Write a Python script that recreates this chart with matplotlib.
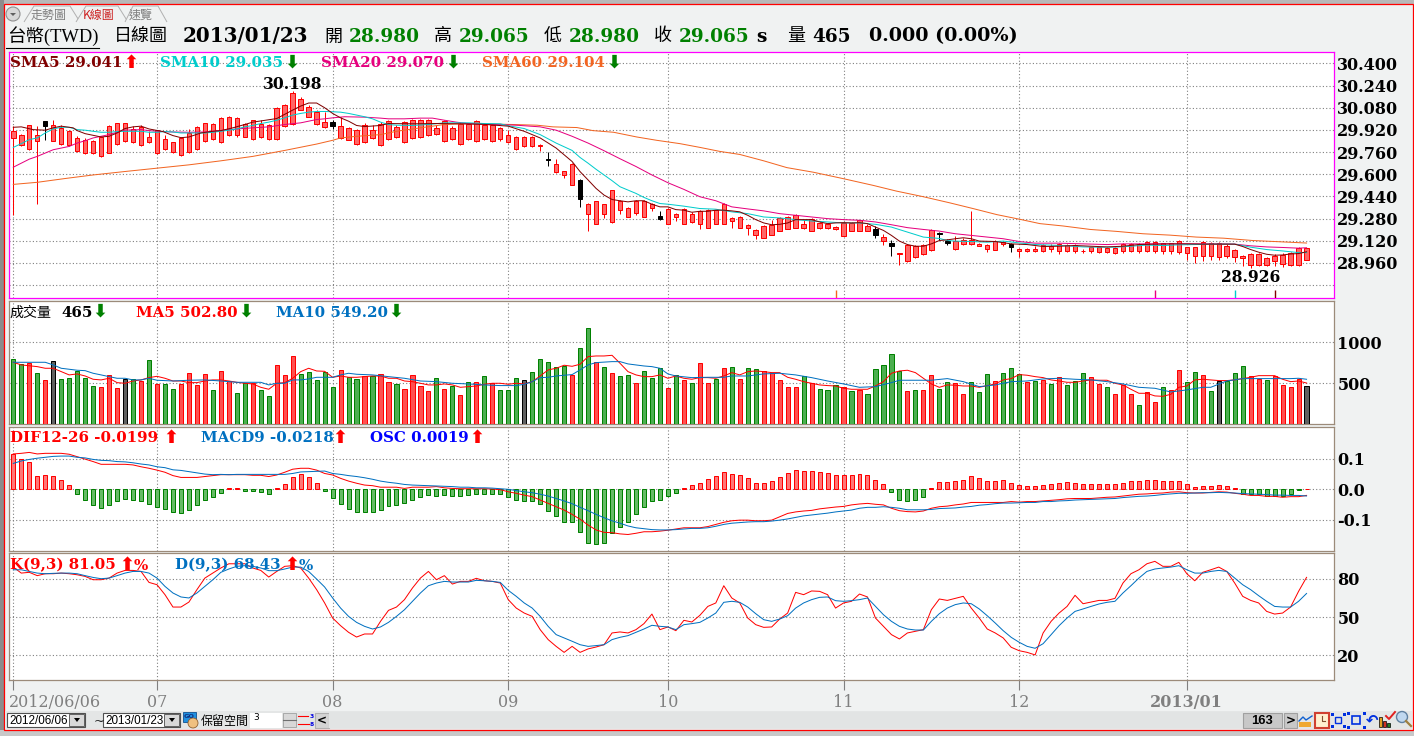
import matplotlib
matplotlib.use('Agg')
import matplotlib.pyplot as plt
from matplotlib.patches import Rectangle, Circle, Polygon
from matplotlib.transforms import ScaledTranslation

W, H = 1414, 736

# month start positions on the bar index, and their labels
month_idx = [0, 18, 40, 62, 82, 104, 126, 147]
month_labels = ['2012/06/06', '07', '08', '09', '10', '11', '12', '2013/01']

# candles, one value per trading day
candle_high = [29.947,29.891,29.959,29.947,29.981,29.995,29.952,29.922,29.879,29.862,
	29.85,29.874,29.952,29.973,29.973,29.947,29.952,29.91,29.922,29.886,
	29.835,29.869,29.927,29.947,29.973,29.968,30.012,30.019,30.015,29.971,
	29.995,29.995,29.961,30.085,30.107,30.198,30.16,30.097,30.063,30.048,
	29.988,30.015,29.942,29.927,29.971,29.952,29.976,29.99,29.956,29.983,
	30.0,30.0,30.0,29.956,29.995,29.947,29.976,29.971,29.99,29.964,
	29.964,29.939,29.922,29.874,29.874,29.874,29.821,29.758,29.712,29.627,
	29.68,29.564,29.394,29.409,29.389,29.488,29.413,29.365,29.413,29.413,
	29.394,29.333,29.358,29.321,29.358,29.331,29.341,29.35,29.345,29.392,
	29.292,29.299,29.241,29.205,29.234,29.273,29.292,29.299,29.312,29.273,
	29.287,29.253,29.249,29.227,29.256,29.256,29.273,29.239,29.224,29.166,
	29.127,29.03,29.096,29.089,29.096,29.205,29.181,29.135,29.156,29.137,
	29.333,29.103,29.096,29.127,29.113,29.101,29.067,29.067,29.079,29.096,
	29.098,29.105,29.096,29.096,29.062,29.076,29.076,29.074,29.072,29.103,
	29.103,29.103,29.118,29.118,29.105,29.105,29.125,29.076,29.076,29.118,
	29.11,29.11,29.096,29.059,29.016,29.03,29.03,29.001,29.023,29.033,
	29.038,29.072,29.065]
body_top = [29.915,29.886,29.954,29.886,29.981,29.952,29.935,29.915,29.862,29.85,
	29.842,29.867,29.947,29.968,29.968,29.93,29.944,29.869,29.918,29.855,
	29.83,29.862,29.896,29.942,29.968,29.964,30.007,30.01,30.007,29.964,
	29.99,29.966,29.956,30.08,30.102,30.189,30.141,30.087,30.046,29.978,
	29.978,29.949,29.935,29.918,29.956,29.922,29.966,29.983,29.944,29.976,
	29.993,29.99,29.99,29.935,29.986,29.935,29.966,29.966,29.983,29.959,
	29.959,29.935,29.884,29.869,29.869,29.869,29.813,29.712,29.673,29.622,
	29.673,29.559,29.389,29.404,29.382,29.484,29.406,29.36,29.409,29.409,
	29.382,29.297,29.353,29.316,29.353,29.316,29.336,29.345,29.341,29.384,
	29.287,29.295,29.236,29.2,29.229,29.236,29.287,29.295,29.307,29.244,
	29.278,29.249,29.244,29.222,29.251,29.251,29.268,29.229,29.207,29.149,
	29.101,29.03,29.091,29.084,29.091,29.2,29.178,29.12,29.12,29.127,
	29.127,29.098,29.091,29.122,29.108,29.096,29.062,29.062,29.062,29.091,
	29.081,29.098,29.091,29.091,29.05,29.072,29.072,29.067,29.067,29.098,
	29.098,29.098,29.113,29.113,29.101,29.101,29.12,29.072,29.072,29.113,
	29.105,29.105,29.086,29.055,29.011,29.025,29.025,28.996,29.011,29.018,
	29.033,29.067,29.065]
body_bot = [29.862,29.808,29.782,29.838,29.947,29.838,29.818,29.808,29.765,29.753,
	29.75,29.729,29.753,29.818,29.838,29.83,29.808,29.83,29.753,29.779,
	29.758,29.736,29.758,29.782,29.838,29.855,29.833,29.884,29.881,29.869,
	29.855,29.867,29.855,29.855,29.949,29.964,30.065,30.015,29.964,29.942,
	29.947,29.859,29.85,29.818,29.83,29.862,29.808,29.857,29.867,29.83,
	29.862,29.867,29.886,29.891,29.838,29.852,29.818,29.855,29.838,29.857,
	29.838,29.852,29.83,29.782,29.801,29.801,29.801,29.704,29.619,29.598,
	29.525,29.423,29.314,29.241,29.314,29.253,29.343,29.292,29.321,29.292,
	29.358,29.278,29.241,29.295,29.241,29.256,29.241,29.212,29.241,29.241,
	29.263,29.212,29.212,29.161,29.142,29.161,29.19,29.205,29.212,29.212,
	29.19,29.212,29.212,29.205,29.154,29.19,29.19,29.19,29.159,29.122,
	29.081,29.023,28.972,29.001,29.023,29.052,29.171,29.105,29.059,29.096,
	29.096,29.084,29.059,29.055,29.096,29.074,29.045,29.045,29.045,29.045,
	29.059,29.045,29.045,29.045,29.045,29.045,29.038,29.038,29.033,29.045,
	29.045,29.045,29.045,29.045,29.045,29.045,29.038,29.03,29.009,29.009,
	29.009,29.001,29.009,29.001,28.994,28.945,28.945,28.943,28.972,28.953,
	28.943,28.943,28.98]
candle_low = [29.308,29.801,29.772,29.387,29.85,29.838,29.813,29.801,29.76,29.748,
	29.745,29.721,29.75,29.813,29.833,29.825,29.806,29.825,29.748,29.772,
	29.753,29.729,29.753,29.777,29.833,29.85,29.828,29.876,29.872,29.867,
	29.85,29.862,29.85,29.85,29.944,29.959,30.061,30.01,29.956,29.937,
	29.927,29.855,29.845,29.811,29.825,29.855,29.801,29.85,29.862,29.825,
	29.855,29.862,29.874,29.886,29.833,29.847,29.813,29.85,29.833,29.85,
	29.83,29.842,29.825,29.777,29.799,29.799,29.765,29.661,29.612,29.573,
	29.52,29.362,29.188,29.239,29.282,29.246,29.312,29.29,29.304,29.29,
	29.333,29.268,29.239,29.261,29.239,29.251,29.202,29.21,29.239,29.239,
	29.21,29.21,29.159,29.13,29.139,29.159,29.188,29.202,29.21,29.202,
	29.188,29.202,29.202,29.195,29.152,29.188,29.188,29.188,29.137,29.093,
	29.013,28.948,28.97,28.999,29.021,29.05,29.127,29.093,29.057,29.093,
	29.093,29.081,29.038,29.052,29.086,29.038,29.006,29.042,29.042,29.042,
	29.038,29.023,29.042,29.033,29.033,29.033,29.03,29.03,29.023,29.033,
	29.038,29.03,29.038,29.03,29.023,29.023,29.023,28.984,28.962,28.977,
	28.984,28.984,28.994,28.97,28.935,28.926,28.94,28.941,28.938,28.93,
	28.938,28.941,28.98]
black_candles = [4, 40, 67, 71, 81, 108, 110, 116, 117, 125]

# moving averages, read at the points where they turn
sma5_idx = [0,1,2.5,4,5,6,7.5,8,9,11,12,13,14,15,16,17,18.75,20,21,22,23.5,25,26,27.5,29,30,33,35,36,37,38,39,40,41,42,43,44,46,47,50,53,56,59,
	62,64,66,68,70,71,72,73,74,75,76,77,78,79,80,81,82,83,84,85,86,87,88,89,90,91,92,93,94,95,96,97,98,99,100,101,102,103,104,105,106,107,108,109,110,111,112,113,114,115,116,117,
	118,119,120,121,123,125,127,129,131,133,135,137,139,141,143,145,147,149,151,153,154,155,156,157,158,159,160,161,162]
sma5_val = [29.939,29.942,29.922,29.918,29.935,29.947,29.935,29.915,29.893,29.869,29.874,29.898,29.93,29.942,29.947,29.927,29.908,29.879,29.864,29.869,29.898,29.91,29.915,29.935,29.959,29.976,30.002,30.063,30.092,30.114,30.114,30.08,30.039,30.007,29.983,29.952,29.944,29.952,29.966,29.964,29.966,29.964,29.96,
	29.947,29.91,29.862,29.789,29.692,29.619,29.559,29.498,29.45,29.418,29.409,29.401,29.409,29.409,29.384,29.365,29.365,29.345,29.341,29.326,29.333,29.333,29.341,29.341,29.336,29.329,29.304,29.273,29.249,29.236,29.239,29.249,29.273,29.273,29.273,29.256,29.244,29.249,29.251,29.249,29.251,29.244,29.219,29.195,29.159,29.118,29.093,29.081,29.081,29.098,29.122,29.127,
	29.135,29.142,29.135,29.118,29.115,29.098,29.093,29.079,29.081,29.086,29.081,29.076,29.081,29.093,29.096,29.098,29.098,29.096,29.096,29.096,29.079,29.057,29.038,29.023,29.016,29.018,29.025,29.028,29.041]
sma10_idx = [0,1,2,3,4,5,6,7,8,9,10,11,12,13,14,16,17,18,19,20,21,24,25,26,27,28,29,30,31,32,33,34,35,36,37,38,39,40,41,42,43,44,45,46,47,48,50,52,54,57,59,
	61,62,64,66,68,70,71,72,73,74,75,76,77,78,79,80,81,82,84,86,88,90,92,94,96,98,100,102,104,106,108,110,112,114,116,117,
	118,120,122,124,126,128,130,132,134,136,138,140,142,144,146,148,150,152,153,155,157,159,161,162]
sma10_val = [29.794,29.821,29.85,29.862,29.898,29.927,29.939,29.939,29.922,29.918,29.91,29.903,29.903,29.908,29.91,29.91,29.903,29.903,29.908,29.905,29.898,29.898,29.903,29.91,29.918,29.927,29.942,29.952,29.966,29.976,29.99,30.007,30.027,30.039,30.048,30.053,30.053,30.051,30.048,30.039,30.027,30.015,30.0,29.976,29.959,29.954,29.952,29.959,29.971,29.971,29.966,
	29.964,29.95,29.93,29.886,29.825,29.772,29.721,29.68,29.636,29.595,29.554,29.51,29.486,29.462,29.433,29.409,29.389,29.384,29.37,29.353,29.348,29.329,29.316,29.292,29.285,29.273,29.263,29.256,29.249,29.249,29.239,29.219,29.183,29.147,29.137,29.122,
	29.118,29.115,29.11,29.118,29.105,29.093,29.089,29.084,29.076,29.074,29.074,29.081,29.089,29.086,29.091,29.093,29.096,29.096,29.096,29.074,29.057,29.047,29.035,29.035]
sma20_idx = [0,1,2,3,4,5,6,7,8,9,10,11,12,13,14,16,17,18,20,22,24,26,28,30,32,34,36,37,38,39,40,41.5,44,46,47,49,51,52.5,54,55.5,57,63,66,68,70,72,74,76,78,80,82,84,86,88,90,92,94,96,98,100,102,104,106,108,110,112,114,116,118,120,122,124,126,128,131,134,137,139,142,145,148,151,153,155,157,159,161,162]
sma20_val = [29.651,29.68,29.709,29.729,29.753,29.777,29.789,29.801,29.825,29.842,29.862,29.874,29.886,29.903,29.918,29.922,29.915,29.91,29.905,29.903,29.905,29.915,29.927,29.935,29.942,29.959,29.971,29.983,29.995,30.0,30.007,30.015,30.012,30.005,30.0,30.0,30.005,30.005,29.99,29.976,29.966,29.954,29.942,29.918,29.874,29.825,29.77,29.712,29.656,29.595,29.539,29.491,29.438,29.409,29.365,29.35,29.336,29.316,29.304,29.292,29.28,29.273,29.268,29.256,29.236,29.215,29.202,29.19,29.171,29.159,29.147,29.135,29.115,29.103,29.103,29.098,29.093,29.098,29.098,29.098,29.098,29.098,29.096,29.084,29.076,29.072,29.067,29.07]
sma60_idx = [0,3,6.7,10,14,18,22,26,30,34,38,40,41,43,46,48,51,54,57,62.6,65.6,67.6,70.6,72.6,75.2,78.1,80.6,83.5,86,88.5,91,94,96.9,100.2,104,107.7,110.6,114,117.3,120.2,123.2,126.1,128.6,131.5,134.9,138.2,141.5,144.9,148.2,151.6,155.3,158.7,162]
sma60_val = [29.527,29.542,29.571,29.595,29.62,29.644,29.668,29.697,29.729,29.772,29.818,29.845,29.862,29.874,29.886,29.91,29.935,29.959,29.966,29.959,29.954,29.942,29.937,29.915,29.903,29.869,29.845,29.821,29.794,29.765,29.743,29.697,29.648,29.615,29.568,29.52,29.479,29.438,29.394,29.353,29.309,29.275,29.244,29.227,29.202,29.188,29.171,29.161,29.147,29.139,29.122,29.113,29.104]
# little marks at the foot of the price panel
cross_idx = [103, 143, 153, 158]
cross_colors = ['#F26522', '#E6007E', '#00CCCC', '#800000']

price_ticks = [28.8, 28.96, 29.12, 29.28, 29.44, 29.6, 29.76, 29.92, 30.08, 30.24, 30.4]

# volume
volume = [793,732,752,622,537,768,549,561,654,561,
	463,451,598,439,553,549,524,780,488,488,
	427,488,622,476,610,415,646,524,378,500,
	500,415,341,720,598,829,610,634,537,634,
	451,659,573,549,585,585,610,512,488,427,
	598,463,402,561,427,463,354,512,512,585,
	500,415,415,561,537,634,793,756,695,707,
	598,927,1171,756,695,622,585,598,500,646,
	569,683,439,598,537,500,744,500,549,683,
	695,549,683,671,646,622,537,451,451,585,
	500,427,415,476,451,402,415,366,671,720,
	854,646,402,415,415,598,427,512,500,366,
	512,390,610,524,622,683,610,512,524,537,
	488,573,476,524,622,573,488,451,366,476,
	366,232,390,268,451,415,659,512,634,598,
	402,524,524,622,707,585,549,537,585,476,
	451,549,465]
vol_colors = ('ggrgrkgggg' 'grrrkgrgrg' 'grrrrgrrgg' 'rggrrrgggg' 'grggrgrrgr' 'rrrgrgrgrg'
	'rgggkggggg' 'rggrgrggrg' 'ggrgrgrrgr' 'grggrrrrrg' 'rgggrgrggg' 'ggrgrrggrr'
	'gggrgggrgr' 'grgggrrgrr' 'rgrrgrrggr' 'gkgggrrgrr' 'rrk')
vol_ma5 = [756,724,714,703,683,683,642,602,614,589,549,541,561,508,500,528,541,569,585,561,
	528,528,508,508,528,541,541,528,512,500,492,451,427,500,508,561,642,683,650,646,
	573,589,573,573,581,589,589,561,561,528,520,500,480,480,492,480,451,459,467,488,
	500,500,488,500,492,520,589,663,683,720,707,732,825,833,833,841,744,642,602,581,
	581,602,561,589,561,549,569,569,561,589,630,602,642,650,642,630,630,573,549,520,
	500,480,472,467,439,427,427,427,467,520,622,650,659,630,561,492,451,480,476,467,
	467,451,472,492,541,557,606,598,581,569,541,528,512,512,528,541,537,537,500,480,
	427,378,378,346,341,366,451,467,541,549,541,533,533,541,557,573,593,593,593,549,
	520,528,503]
vol_ma10_idx = [0,4,5,6,7,8,9,10,11,12,13,14,15,16,17,18,20,22,24,26,28,31,32,33,34,35,36,37,38,39,40,41,42,43,45,47,49,51,53,55,57,59,61,63,64,65,66,67,68,69,70,71,72,73,75,76,77,79,80,81,82,83,85,87,89,90,92,94,96,98,100,102,104,106,108,110,111,115,117,119,121,123,125,127,129,131,133,135,137,139,141,143,145,147,149,150,152,154,156,158,160,161,162]
vol_ma10_val = [756,756,724,683,671,659,654,622,602,581,561,561,541,541,561,537,528,537,541,528,512,512,480,500,500,541,541,553,573,573,573,602,622,610,602,581,561,528,520,500,492,480,472,472,488,520,569,573,589,598,606,663,724,752,764,764,736,711,703,683,614,589,569,573,573,589,589,614,622,602,569,528,492,451,459,508,537,537,557,520,459,480,520,528,553,561,549,541,520,492,451,439,394,419,451,451,528,557,557,557,557,561,549]

# MACD panel
osc = [.116,.0995,.09,.043,.046,.043,.03,.014,-.015,-.035,-.05,-.06,-.05,-.038,-.032,-.035,-.038,-.047,-.058,-.064,
	-.074,-.078,-.068,-.05,-.034,-.025,-.011,.003,.003,-.005,-.005,-.009,-.014,.003,.016,.039,.049,.039,.02,-.004,
	-.03,-.047,-.063,-.073,-.073,-.073,-.067,-.054,-.05,-.044,-.034,-.024,-.017,-.021,-.017,-.021,-.021,-.017,-.014,-.014,
	-.014,-.014,-.024,-.034,-.037,-.037,-.047,-.07,-.086,-.106,-.106,-.139,-.176,-.18,-.175,-.142,-.122,-.106,-.08,-.057,
	-.037,-.034,-.021,-.011,.003,.013,.02,.033,.043,.056,.049,.046,.036,.02,.02,.026,.039,.052,.062,.059,
	.059,.056,.052,.046,.046,.046,.049,.046,.03,.016,-.008,-.034,-.037,-.034,-.024,.003,.023,.023,.026,.03,
	.043,.036,.026,.026,.03,.02,.013,.01,.01,.013,.016,.02,.023,.02,.016,.016,.016,.016,.016,.02,
	.026,.026,.03,.03,.026,.026,.026,.016,.007,.01,.01,.013,.01,.003,-.014,-.014,-.016,-.021,-.021,-.021,
	-.014,-.003,.0019]
dif = [.116,.118,.121,.116,.118,.118,.118,.115,.107,.099,.091,.082,.082,.082,.082,.08,.074,.069,.063,.056,
	.045,.039,.039,.039,.042,.045,.048,.048,.048,.048,.046,.046,.042,.047,.056,.066,.069,.069,.063,.052,
	.047,.036,.027,.02,.014,.012,.007,.007,.007,.003,.007,.007,.007,.009,.005,.003,.002,.002,.002,.002,
	.001,-.001,-.008,-.013,-.019,-.024,-.035,-.046,-.057,-.068,-.082,-.098,-.117,-.133,-.141,-.142,-.146,-.148,-.144,-.139,
	-.139,-.137,-.134,-.13,-.126,-.126,-.126,-.122,-.115,-.108,-.103,-.101,-.101,-.103,-.103,-.101,-.09,-.079,-.074,-.071,
	-.069,-.064,-.061,-.058,-.056,-.051,-.048,-.046,-.049,-.051,-.062,-.07,-.073,-.074,-.071,-.062,-.057,-.055,-.051,-.048,
	-.043,-.043,-.043,-.043,-.043,-.04,-.042,-.04,-.04,-.038,-.036,-.034,-.031,-.03,-.03,-.03,-.028,-.026,-.025,-.022,
	-.019,-.016,-.015,-.013,-.012,-.009,-.008,-.011,-.012,-.012,-.01,-.008,-.009,-.013,-.016,-.02,-.02,-.023,-.023,-.026,
	-.024,-.024,-.0199]
macd9 = [.085,.093,.098,.102,.105,.108,.109,.109,.105,.103,.098,.095,.094,.091,.09,.087,.083,.08,.074,.071,
	.064,.062,.058,.054,.05,.048,.049,.048,.049,.049,.049,.049,.049,.049,.049,.052,.057,.058,.059,.06,
	.052,.049,.045,.042,.038,.033,.027,.023,.02,.016,.014,.013,.012,.011,.01,.009,.007,.007,.005,.005,
	.004,.002,0,-.004,-.008,-.011,-.016,-.022,-.03,-.038,-.047,-.059,-.07,-.082,-.093,-.103,-.111,-.12,-.126,-.129,
	-.132,-.133,-.133,-.132,-.13,-.128,-.128,-.126,-.121,-.115,-.111,-.109,-.107,-.106,-.106,-.104,-.101,-.097,-.092,-.087,
	-.084,-.081,-.078,-.074,-.071,-.068,-.062,-.059,-.059,-.057,-.059,-.062,-.067,-.067,-.067,-.066,-.063,-.062,-.061,-.058,
	-.056,-.052,-.05,-.047,-.045,-.045,-.044,-.043,-.043,-.04,-.04,-.038,-.037,-.035,-.034,-.033,-.032,-.031,-.03,-.027,
	-.025,-.023,-.022,-.02,-.017,-.015,-.013,-.013,-.012,-.011,-.011,-.01,-.011,-.012,-.014,-.015,-.016,-.017,-.019,-.019,
	-.02,-.02,-.0218]

# KD panel
k_line = [89.1,84.4,85,82.4,83.9,83.9,84.4,83.9,83.1,81.8,79.2,79.2,80.5,84.4,86.5,86.5,85.7,77.1,75.3,67.5,
	57.8,57.8,61.7,71.4,80.5,84.4,88.4,91.7,91.7,91.7,88.4,86.5,81.3,85.7,89.7,90.2,88.4,80.5,71.4,61,
	49.2,43.2,38,34.3,36.7,36.7,46.6,55.2,57.8,63.6,72.7,80.5,85.7,79.2,82.4,75.8,77.9,77.9,80.3,78.4,
	77.9,76.6,63.6,57,53.1,50.5,40.1,32.3,27,22.3,27,22.3,25,26.5,28.3,37.5,38.3,37.5,40.1,44.8,
	52.3,40.1,42.2,39.3,47.4,46.1,51.3,58.3,61,74.5,64.9,61,49.2,44,41.9,42.2,48.4,53.1,69.3,67.5,
	70.4,70.1,67.5,57,61,62.3,68,65.7,49.2,42.7,36.2,32.8,37.5,38.8,40.1,55.7,64.1,63,64.6,66.2,
	57,49.2,40.6,37.5,33.6,26.3,23.6,22.3,20.3,37.5,46.6,53.1,58.3,67,60.4,61.7,63,63,64.6,76.6,
	83.9,87,91.7,93.6,89.7,89.7,92.8,83.9,78.4,85,87,89.1,85.7,76.6,66.2,63,61,54.4,52.3,53.1,
	57.8,70.1,81.05]
d_line = [87,87,85.7,84.4,83.9,84.2,84.4,84.4,83.9,82.4,81,80,80.5,82.4,84.4,85.7,85.7,84.4,80.5,74,
	68.8,65.7,64.9,68.8,74,79.2,85,87.6,89.7,90.2,89.7,88.4,86.3,86.3,87.6,89.1,89.1,85.7,79.7,73.5,
	64.9,57,50.5,45.8,42.7,40.6,42.2,45.8,50.5,55.7,62.3,68.8,74.5,76.6,77.9,77.4,77.4,77.4,78.7,78.4,
	77.9,77.1,70.9,66.2,61,57,50.5,42.7,36.2,33.6,31,28.3,27,27.6,28.3,32.3,34.1,35.4,38,40.6,
	43.5,42.7,42.2,40.1,44,44.8,45.8,49.2,53.1,61.5,62.3,61.5,57.8,52.6,47.9,46.6,48.4,51,57,61,
	63.6,65.4,65.7,62.8,62.3,62.8,63.6,64.9,58.3,51.8,46.6,42.7,40.6,39.8,39.8,46.6,52.6,57,59.7,61,
	60.4,56.3,51,45.3,39.3,34.1,30.2,27,25.5,29.1,36.2,43.2,49.2,54.4,56.3,58.3,60.2,61.5,62.3,68.8,
	74.5,80.5,85.7,87.6,88.4,89.1,90.2,87,84.4,84.4,85.7,86.5,85.7,80.5,75.3,71.4,66.7,62.3,58.3,57.8,
	57.8,62.3,68.43]

BG = '#F0F2F2'
TAUPE = '#9C8B7A'
RED = '#FF0000'
GREEN = '#008000'
BLUE = '#0070C0'
SERIF = 'DejaVu Serif'
CJK = ['Noto Sans CJK TC', 'DejaVu Sans']
LATIN_CJK = ['Liberation Serif', 'Noto Sans CJK TC']

plt.rcParams['font.family'] = ['DejaVu Serif', 'Noto Sans CJK TC']

fig = plt.figure(figsize=(W / 100, H / 100), dpi=100, facecolor=BG)

# back layer in pixels, only for the window furniture
back = fig.add_axes([0, 0, 1, 1], zorder=-5)
back.set_xlim(0, W)
back.set_ylim(H, 0)
back.axis('off')


def ptext(x, y, s, px=15, color='black', weight='bold', family=SERIF, ha='left'):
	# text placed in window pixels, small nudge so the digits sit on the row centre
	return fig.text(x / W, 1 - (y + 1.5) / H, s, fontsize=px * 0.72, color=color, fontweight=weight,
		family=family, ha=ha, va='center')


def arrow(x, y, up):
	ptext(x, y - 0.5, '⬆' if up else '⬇', px=18, color=RED if up else GREEN, family='DejaVu Sans', ha='center')


def panel(top, bottom, ylim, ticks, labels, edge):
	ax = fig.add_axes([8.5 / W, 1 - bottom / H, 1326 / W, (bottom - top) / H])
	ax.set_xlim(-0.6, 165.5)
	ax.set_ylim(*ylim)
	ax.set_xticks(month_idx)
	ax.set_xticklabels([])
	ax.set_yticks(ticks)
	ax.set_yticklabels(labels)
	ax.yaxis.tick_right()
	ax.tick_params(axis='both', length=0, pad=2)
	ax.tick_params(axis='y', labelsize=11.5, pad=2)
	for lab in ax.get_yticklabels():
		lab.set_fontweight('bold')
		lab.set_family(SERIF)
	ax.grid(True, color='#808080', linestyle=(0, (1, 2)), linewidth=0.8)
	ax.set_axisbelow(True)
	for sp in ax.spines.values():
		sp.set_color(edge)
		sp.set_linewidth(0.9)
	return ax


def line(ax, x, y, color):
	ax.plot(x, y, color=color, linewidth=0.72, zorder=5)


# ---------- window furniture ----------
back.add_patch(Rectangle((0, 0), W, 4, facecolor='#B8B8B8', edgecolor='none'))
back.add_patch(Rectangle((0, 0), 3.5, H, facecolor='#8C8C8C', edgecolor='none'))
back.add_patch(Rectangle((0, 730), W, 6, facecolor='#C8C8C8', edgecolor='none'))
back.add_patch(Rectangle((4, 4), 1409, 725.5, facecolor='none', edgecolor=RED, linewidth=0.9))

back.add_patch(Circle((13, 14), 7, facecolor='#D8D8D8', edgecolor='#909090', linewidth=0.8))
back.add_patch(Polygon([[10, 13], [16, 13], [13, 16]], facecolor='#606060', edgecolor='none'))
for pts in ([[24, 22], [34, 6], [70, 6], [80, 22]], [[76, 22], [86, 6], [118, 6], [128, 22]], [[125, 22], [133, 6], [158, 6], [167, 22]]):
	back.add_patch(Polygon(pts, facecolor=BG, edgecolor='#B0B0B0', linewidth=0.7, closed=False))
ptext(49, 13.5, '走勢圖', px=12, color='#808080', weight='normal', family=CJK, ha='center')
ptext(99, 13.5, 'K線圖', px=12, color='#CC2020', weight='normal', family=CJK, ha='center')
ptext(141, 13.5, '速覽', px=12, color='#808080', weight='normal', family=CJK, ha='center')

# header row
ptext(7, 35, '台幣(TWD)', px=18.5, weight='normal', family=LATIN_CJK)
back.plot([6, 99], [48, 48], color='black', linewidth=0.8)
ptext(114, 35, '日線圖', px=18, weight='normal', family=CJK)
ptext(183, 35, '2013/01/23', px=20)
ptext(324, 35, '開', px=18, weight='normal', family=CJK)
ptext(349, 35, '28.980', px=18.5, color=GREEN)
ptext(434, 35, '高', px=18, weight='normal', family=CJK)
ptext(459, 35, '29.065', px=18.5, color=GREEN)
ptext(544, 35, '低', px=18, weight='normal', family=CJK)
ptext(569, 35, '28.980', px=18.5, color=GREEN)
ptext(654, 35, '收', px=18, weight='normal', family=CJK)
ptext(679, 35, '29.065', px=18.5, color=GREEN)
ptext(756, 35, 's', px=18.5)
ptext(787, 35, '量', px=18, weight='normal', family=CJK)
ptext(812, 35, '465', px=18.5)
ptext(869, 35, '0.000 (0.00%)', px=19.2)

# ---------- price panel ----------
price_labels = [''] + ['%.3f' % t for t in price_ticks[1:]]
ax1 = panel(52, 298, (28.7075, 30.482), price_ticks, price_labels, '#FF00FF')
xs = list(range(len(candle_high)))
wick_colors = ['black' if i in black_candles else RED for i in xs]
ax1.vlines(xs, candle_low, candle_high, colors=wick_colors, linewidth=0.72, zorder=2)
ax1.bar(xs, [t - b for t, b in zip(body_top, body_bot)], bottom=body_bot, width=0.56,
	color=['black' if i in black_candles else '#FF6666' for i in xs], edgecolor=wick_colors,
	linewidth=0.72, zorder=3)
line(ax1, sma60_idx, sma60_val, '#F26522')
line(ax1, sma20_idx, sma20_val, '#E6007E')
line(ax1, sma10_idx, sma10_val, '#00CCCC')
line(ax1, sma5_idx, sma5_val, '#800000')
ax1.vlines(cross_idx, 28.7075, 28.765, colors=cross_colors, linewidth=1.0, zorder=4)

ptext(263, 83, '30.198', px=15.5)
ptext(1221, 276, '28.926', px=15.5)
for x0, x1, s, col, up in [(10, 138, 'SMA5 29.041', '#800000', True), (160, 299, 'SMA10 29.035', '#00CCCC', False),
	(321, 460, 'SMA20 29.070', '#E6007E', False), (482, 621, 'SMA60 29.104', '#F26522', False)]:
	ptext(x0, 61.5, s, color=col)
	arrow(x1 - 7, 61.5, up)
	back.plot([x0, x1], [70, 70], color='black', linewidth=0.8, zorder=10)

# ---------- volume panel ----------
ax2 = panel(301, 424.3, (0, 1503), [500, 1000], ['500', '1000'], TAUPE)
vol_fill = {'r': '#FF5050', 'g': '#4CAF50', 'k': '#606060'}
vol_edge = {'r': RED, 'g': GREEN, 'k': 'black'}
ax2.bar(xs, volume, width=0.52, color=[vol_fill[c] for c in vol_colors], edgecolor=[vol_edge[c] for c in vol_colors],
	linewidth=0.72, zorder=3)
line(ax2, xs, vol_ma5, RED)
line(ax2, vol_ma10_idx, vol_ma10_val, BLUE)
ptext(10, 311, '成交量', px=14, weight='normal', family=CJK)
ptext(61, 311, '465')
arrow(100, 311, False)
ptext(136, 311, 'MA5 502.80', color=RED)
arrow(246, 311, False)
ptext(276, 311, 'MA10 549.20', color=BLUE)
arrow(396, 311, False)

# ---------- MACD panel ----------
ax3 = panel(427.3, 550.7, (-0.2011, 0.2033), [-0.1, 0.0, 0.1], ['-0.1', '0.0', '0.1'], TAUPE)
ax3.bar(xs, osc, width=0.5, color=['#FF7777' if v > 0 else '#66BB66' for v in osc],
	edgecolor=[RED if v > 0 else GREEN for v in osc], linewidth=0.72, zorder=3)
line(ax3, xs, dif, RED)
line(ax3, xs, macd9, BLUE)
ptext(10, 437, 'DIF12-26 -0.0199', color=RED)
arrow(171, 437, True)
ptext(201, 437, 'MACD9 -0.0218', color=BLUE)
arrow(340, 437, True)
ptext(370, 437, 'OSC 0.0019', color='#0000FF')
arrow(477, 437, True)

# ---------- KD panel ----------
ax4 = panel(553.3, 680.3, (0.42, 99.9), [20, 50, 80], ['20', '50', '80'], TAUPE)
line(ax4, xs, k_line, RED)
line(ax4, xs, d_line, BLUE)
ptext(10, 564, 'K(9,3) 81.05', color=RED)
arrow(127, 564, True)
ptext(134, 564, '%', color=RED)
ptext(175, 564, 'D(9,3) 68.43', color=BLUE)
arrow(292, 564, True)
ptext(299, 564, '%', color=BLUE)

# time axis below the KD panel
ax4.set_xticklabels(month_labels)
ax4.tick_params(axis='x', length=7.2, width=0.8, color='#808080', pad=3, labelsize=11.5, labelcolor='#808080')
x_labs = ax4.get_xticklabels()
x_labs[0].set_ha('left')
x_labs[0].set_transform(x_labs[0].get_transform() + ScaledTranslation(-4 / 100, 0, fig.dpi_scale_trans))
x_labs[-1].set_fontweight('bold')

# ---------- bottom control bar ----------
back.add_patch(Rectangle((5, 711), 1407, 18, facecolor='#E4E6E6', edgecolor='none'))
for x0, x1, s in [(7, 85, '2012/06/06'), (103, 180, '2013/01/23')]:
	back.add_patch(Rectangle((x0, 713), x1 - x0, 14, facecolor='white', edgecolor='#505050', linewidth=0.8))
	back.add_patch(Rectangle((x1 - 16, 714), 15, 12, facecolor='#D8D8D8', edgecolor='#606060', linewidth=0.7))
	back.add_patch(Polygon([[x1 - 11, 718], [x1 - 5, 718], [x1 - 8, 722]], facecolor='black', edgecolor='none'))
	fig.text((x0 + 2) / W, 1 - 720.5 / H, s, fontsize=8.4, family='Liberation Sans', va='center', color='black')
ptext(94, 720, '~', px=13, weight='normal')
back.add_patch(Rectangle((183, 712), 13, 10, facecolor='#2090E0', edgecolor='#105090', linewidth=0.6))
ptext(189.5, 715.5, 'GO', px=6.5, color='#103080', family='DejaVu Sans', ha='center')
back.add_patch(Circle((193, 723), 5, facecolor='#F0C080', edgecolor='#906030', linewidth=0.6))
ptext(201, 719.5, '保留空間', px=12, weight='normal', family=CJK)
back.add_patch(Rectangle((250, 713), 32, 15, facecolor='white', edgecolor='none'))
ptext(253, 716.5, '3', px=9, weight='normal', family='DejaVu Sans')
back.add_patch(Rectangle((283, 713), 13, 14, facecolor='#D8D8D8', edgecolor='#A0A0A0', linewidth=0.6))
back.plot([283, 296], [720, 720], color='#707070', linewidth=0.8)
back.plot([298, 308], [716, 716], color=RED, linewidth=0.8)
back.plot([298, 309], [724, 724], color=RED, linewidth=0.8)
ptext(310, 714.5, '3', px=6, color='#0000E0', family='DejaVu Sans')
ptext(310, 723, '8', px=6, color='#0000E0', family='DejaVu Sans')
back.add_patch(Rectangle((315, 713), 14, 15, facecolor='#D4D4D4', edgecolor='#B0B0B0', linewidth=0.8))
ptext(322, 719, '<', px=12, family='DejaVu Sans', ha='center')
back.add_patch(Rectangle((329, 712), 914, 16, facecolor='#E2E4E4', edgecolor='none'))
back.add_patch(Rectangle((1243, 713), 39, 15, facecolor='#C8C8C8', edgecolor='#A0A0A0', linewidth=0.8))
ptext(1262, 719, '163', px=13, family='Liberation Sans', ha='center')
back.add_patch(Rectangle((1284, 713), 13, 15, facecolor='#C8C8C8', edgecolor='#A0A0A0', linewidth=0.8))
ptext(1290.5, 719, '>', px=12, family='DejaVu Sans', ha='center')
# toolbar icons at the far right
back.add_patch(Rectangle((1299, 722), 12, 5, facecolor='#F0A830', edgecolor='none'))
back.plot([1299, 1303, 1306, 1312], [721, 717, 720, 716], color='#1060D0', linewidth=1)
back.add_patch(Rectangle((1315, 713), 14, 15, facecolor='#FFF0D0', edgecolor='#D04030', linewidth=1.5))
back.plot([1322, 1322, 1325], [716, 721, 721], color='#805030', linewidth=0.8)
back.add_patch(Rectangle((1335, 717), 6, 6, facecolor='none', edgecolor='#0030E0', linewidth=1))
back.add_patch(Rectangle((1352, 716), 8, 8, facecolor='none', edgecolor='#0030E0', linewidth=1.2))
for cx, cy in [(1332, 714), (1344, 714), (1332, 726), (1344, 726), (1348, 713), (1364, 713), (1348, 727), (1364, 727)]:
	back.add_patch(Rectangle((cx - 1.5, cy - 1.5), 3, 3, facecolor='#0030E0', edgecolor='none'))
ptext(1372, 719, '↶', px=15, color='#0030E0', family='DejaVu Sans', ha='center')
back.add_patch(Rectangle((1379, 717), 3, 10, facecolor='#E0A020', edgecolor='black', linewidth=0.5))
back.add_patch(Rectangle((1383, 721), 3, 6, facecolor='#D03020', edgecolor='black', linewidth=0.5))
back.add_patch(Rectangle((1387, 723), 3, 4, facecolor='#208020', edgecolor='black', linewidth=0.5))
back.plot([1386, 1389, 1395], [716, 719, 712], color='#E02020', linewidth=1.4)
back.add_patch(Circle((1402, 717), 5.5, facecolor='#C0D8F0', edgecolor='#6080A0', linewidth=1))
back.plot([1406, 1411], [721, 726], color='#A08040', linewidth=1.6)

fig.savefig('out.png', dpi=100, facecolor=BG)
